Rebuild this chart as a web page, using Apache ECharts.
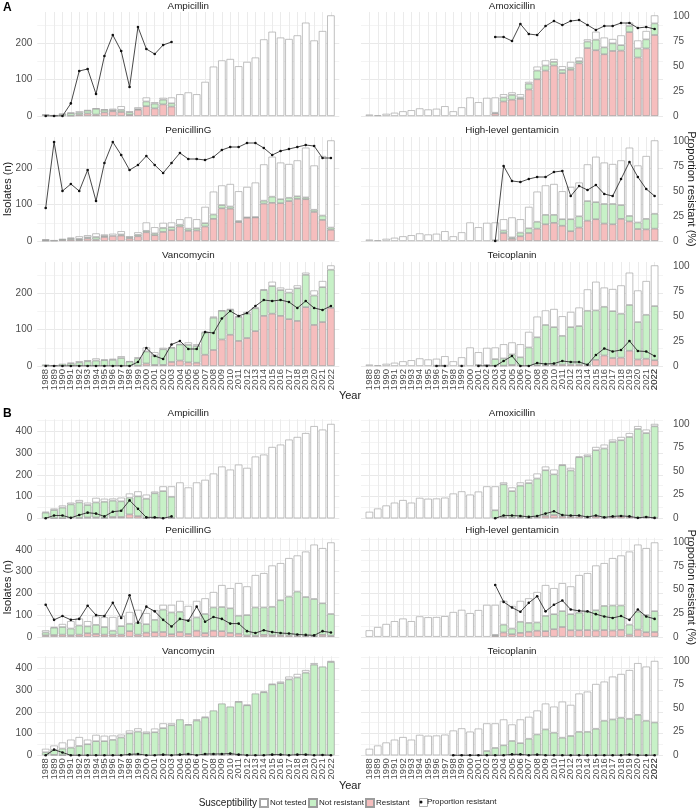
<!DOCTYPE html>
<html>
<head>
<meta charset="utf-8">
<script src="https://cdn.jsdelivr.net/npm/echarts@6/dist/echarts.min.js"></script>
<style>
  html, body { margin: 0; padding: 0; background: #fff; }
  #chart { width: 698px; height: 809px; }
</style>
</head>
<body>
<div id="chart"></div>
<script>
  const _ = null;
  const years = [1988, 1989, 1990, 1991, 1992, 1993, 1994, 1995, 1996, 1997, 1998, 1999, 2000, 2001, 2002, 2003, 2004,
    2005, 2006, 2007, 2008, 2009, 2010, 2011, 2012, 2013, 2014, 2015, 2016, 2017, 2018, 2019, 2020, 2021, 2022];

  // isolates per year (all bars in a section share these totals)
  const totalA = [4, 2, 6, 9, 13, 16, 21, 18, 20, 27, 13, 24, 51, 38, 50, 51, 60, 65, 60, 94, 136, 153, 157, 137, 149,
    161, 211, 232, 216, 212, 222, 257, 208, 234, 277];
  const totalB = [30, 45, 59, 72, 84, 72, 94, 90, 91, 95, 114, 124, 109, 123, 147, 147, 165, 142, 165, 177, 206, 238,
    224, 247, 232, 284, 293, 328, 339, 362, 374, 392, 424, 408, 434];

  // ---- section A ----
  const ampA_R = [0, 0, 0, 1, 4, 7, 4, 10, 13, 11, 3, 17, 27, 21, 32, 26, _, _, _, _, _, _, _, _, _, _, _, _, _, _, _, _, _, _, _];
  const ampA_NR = [3, 1, 5, 7, 5, 8, 16, 7, 3, 6, 7, 2, 13, 13, 13, 9, _, _, _, _, _, _, _, _, _, _, _, _, _, _, _, _, _, _, _];
  const ampA_P = [0, 0, 0, 12.6, 45, 47, 22, 60, 81, 65, 29, 89, 67, 62, 71, 74, _, _, _, _, _, _, _, _, _, _, _, _, _, _, _, _, _, _, _];

  const amoxA_R = [_, _, _, _, _, _, _, _, _, _, _, _, _, _, _, 7, 40, 45, 47, 73, 101, 125, 139, 118, 127, 145, 187, 181,
    170, 179, 180, 231, 161, 186, 223];
  const amoxA_NR = [_, _, _, _, _, _, _, _, _, _, _, _, _, _, _, 2, 11, 13, 4, 16, 24, 14, 10, 9, 6, 6, 18, 29, 19, 21, 15,
    17, 25, 25, 32];
  const amoxA_P = [_, _, _, _, _, _, _, _, _, _, _, _, _, _, _, 79, 79, 75, 92, 82, 81, 90, 95, 91, 95, 96, 91, 86, 90, 90,
    93, 93, 88, 89, 87];

  const penA_R = [1, 1, 3, 4, 3, 7, 4, 11, 14, 15, 7, 13, 24, 16, 25, 30, 40, 28, 29, 40, 61, 90, 89, 52, 64, 65, 103, 105,
    104, 110, 116, 115, 80, 58, 31];
  const penA_NR = [2, 0, 3, 3, 3, 3, 7, 3, 0, 3, 3, 4, 4, 5, 11, 8, 5, 6, 6, 9, 12, 9, 6, 3, 1, 1, 8, 17, 11, 9, 7, 5, 6, 12, 6];
  const penA_P = [33, 99, 50, 57, 50, 71, 40, 78, 99, 86, 71, 76, 85, 76, 68, 78, 88, 82, 82, 81, 84, 91, 94, 94, 98, 98,
    93, 86, 90, 92, 94, 96, 95, 83, 83];

  const genA_R = [_, _, _, _, _, _, _, _, _, _, _, _, _, _, _, 0, 22, 6, 13, 22, 34, 46, 50, 42, 27, 37, 56, 60, 48, 46, 61,
    54, 33, 32, 34];
  const genA_NR = [_, _, _, _, _, _, _, _, _, _, _, _, _, _, _, 2, 7, 4, 10, 13, 19, 26, 22, 18, 33, 31, 54, 47, 54, 56, 38,
    15, 18, 29, 41];
  const genA_P = [_, _, _, _, _, _, _, _, _, _, _, _, _, _, _, 0, 75, 60, 59, 62, 64, 64, 69, 70, 45, 55, 51, 56, 47, 45, 62,
    79, 64, 52, 45];

  const vanA_R = [0, 0, 0, 0, 0, 0, 0, 0, 0, 0, 0, 1, 7, 3, 3, 11, 15, 10, 9, 31, 44, 73, 86, 69, 77, 96, 138, 144, 138,
    129, 124, 162, 113, 121, 160];
  const vanA_NR = [4, 2, 6, 7, 10, 13, 15, 16, 17, 22, 12, 20, 33, 26, 43, 39, 44, 48, 46, 61, 89, 79, 69, 66, 67, 63, 71,
    76, 71, 73, 90, 89, 81, 96, 105];
  const vanA_P = [0, 0, 0, 0, 0, 0, 0, 0, 0, 0, 0, 4, 18, 10, 7, 21.5, 25, 17, 17, 34, 33, 47.5, 55, 50, 53, 60, 66, 65,
    66, 64, 58, 65, 58, 56, 60];

  const teiA_R = [_, _, _, _, _, _, _, _, 0, 0, _, 0, _, 0, 0, 0, 1, 3, 0, 0, 2, 2, 3, 4, 4, 4, 2, 17, 29, 22, 23, 42, 18,
    20, 16];
  const teiA_NR = [_, _, _, _, _, _, _, _, 1, 1, _, 1, _, 3, 3, 19, 20, 29, 24, 51, 77, 111, 104, 79, 103, 106, 150, 136,
    134, 129, 121, 126, 103, 121, 149];
  const teiA_P = [_, _, _, _, _, _, _, _, 0, 0, _, 0, _, 0, 0, 0, 5, 10, 0, 0, 3, 2, 2.5, 5, 4, 4, 1.3, 11, 17.5, 14.5,
    16, 25, 15, 14.5, 10];

  // ---- section B ----
  const ampB_R = [0, 1, 1, 0, 2, 4, 4, 2, 6, 6, 18, 10, 1, 1, 0, 2, _, _, _, _, _, _, _, _, _, _, _, _, _, _, _, _, _, _, _];
  const ampB_NR = [26, 37, 48, 64, 71, 57, 69, 74, 75, 72, 77, 91, 89, 114, 125, 97, _, _, _, _, _, _, _, _, _, _, _, _, _,
    _, _, _, _, _, _];
  const ampB_P = [0, 3, 3, 0.5, 3.5, 6, 5, 2, 7, 8, 19, 10, 1, 1, 0, 2, _, _, _, _, _, _, _, _, _, _, _, _, _, _, _, _, _, _, _];

  const amoxB_R = [_, _, _, _, _, _, _, _, _, _, _, _, _, _, _, 0, 5, 4, 4, 2, 5, 11, 15, 9, 7, 8, 4, 9, 3, 7, 9, 7, 2, 5, 2];
  const amoxB_NR = [_, _, _, _, _, _, _, _, _, _, _, _, _, _, _, 37, 151, 121, 146, 160, 178, 210, 187, 235, 213, 273, 281,
    304, 318, 344, 350, 367, 409, 387, 421];
  const amoxB_P = [_, _, _, _, _, _, _, _, _, _, _, _, _, _, _, 0, 3, 3, 2.5, 1.5, 2.5, 5, 7.4, 3.5, 3, 3, 1.4, 3, 1, 2,
    2.5, 2, 0.5, 1.4, 0.4];

  const penB_R = [7, 8, 10, 7, 10, 16, 13, 10, 10, 10, 26, 10, 19, 21, 22, 12, 22, 13, 28, 17, 28, 26, 18, 14, 6, 5, 9, 7,
    7, 6, 5, 4, 3, 9, 5];
  const penB_NR = [13, 34, 35, 31, 42, 32, 42, 35, 18, 39, 34, 55, 39, 57, 103, 100, 93, 64, 61, 88, 107, 111, 113, 83, 94,
    130, 126, 131, 161, 179, 203, 179, 171, 145, 100];
  const penB_P = [34, 18, 22, 18, 19, 33, 23, 22, 36, 20, 44, 15, 32, 27, 18, 11, 19, 17, 32, 16, 21, 19, 14, 14, 6, 4, 7,
    5, 4, 3.5, 2.5, 2, 1.5, 6, 4.5];

  const genB_R = [_, _, _, _, _, _, _, _, _, _, _, _, _, _, _, 5, 20, 12, 18, 23, 28, 26, 35, 45, 30, 30, 31, 29, 31, 29,
    32, 10, 33, 21, 22];
  const genB_NR = [_, _, _, _, _, _, _, _, _, _, _, _, _, _, _, 4, 36, 26, 51, 41, 38, 70, 69, 73, 74, 81, 84, 93, 111, 115,
    112, 46, 82, 79, 96];
  const genB_P = [_, _, _, _, _, _, _, _, _, _, _, _, _, _, _, 55, 37, 31, 26.5, 36, 43, 27, 34, 38.5, 29, 27.5, 27, 24,
    21.5, 20, 22, 18, 29, 21.5, 19];

  const vanB_R = [0, 2, 1, 0, 0, 0, 0, 0, 0, 0, 1, 2, 0, 0, 1, 0, 1, 2, 0, 2, 3, 3, 4, 2, 0, 0, 0, 2, 2, 0, 3, 3, 0, 1, 0];
  const vanB_NR = [14, 23, 30, 35, 43, 51, 65, 65, 71, 82, 100, 107, 101, 106, 124, 138, 164, 138, 160, 172, 203, 235, 220,
    244, 230, 284, 290, 324, 330, 349, 355, 377, 417, 407, 429];
  const vanB_P = [0, 6, 3, 0, 0, 0, 0, 0, 0, 0, 1, 1.4, 0, 0, 0.7, 0, 0.7, 1.4, 0, 1.4, 1.4, 1.4, 1.8, 0.7, 0, 0, 0, 0.7,
    0.7, 0, 0.7, 0.7, 0, 0.35, 0];

  const teiB_R = [_, _, _, _, _, _, _, _, _, _, 0, 0, 0, 0, 0, 0, 0, 1, 1, 0, 1, 0, 0, 0, 0, 0, 0, 0, 0, 0, 0, 1, 0, 0, 0];
  const teiB_NR = [_, _, _, _, _, _, _, _, _, _, 1, 1, 1, 1, 20, 34, 46, 65, 55, 76, 95, 119, 104, 81, 89, 108, 108, 122,
    159, 165, 173, 167, 186, 159, 151];
  const teiB_P = [_, _, _, _, _, _, _, _, _, _, 0, 0, 0, 0, 0, 0, 0, 1, 1, 0, 0.7, 0, 0, 0, 0, 0, 0, 0, 0, 0, 0, 0.7, 0,
    0, 0];

  const FONT = 'Liberation Sans, Arial, sans-serif';
  const colX = [37.3, 361];
  const W = 302;
  const STEP = W / 36;
  // one empty slot each side gives the panel padding ggplot adds around the bars
  const axisCats = ['1987'].concat(years.map(String), ['2023']);
  const pad = arr => ['-'].concat(arr, ['-']);
  const yearText = v => (v === '1987' || v === '2023') ? '' : v;

  const sections = [
    {
      label: 'A', labelY: 2, total: totalA, zeros: [116, 241, 366], titleY: [6, 130, 255], h: 104,
      leftMax: 286.3, rightMax: 104, yearY: 396,
      panels: [
        { name: 'Ampicillin', r: ampA_R, nr: ampA_NR, p: ampA_P },
        { name: 'Amoxicillin', r: amoxA_R, nr: amoxA_NR, p: amoxA_P },
        { name: 'PenicillinG', r: penA_R, nr: penA_NR, p: penA_P },
        { name: 'High-level gentamicin', r: genA_R, nr: genA_NR, p: genA_P },
        { name: 'Vancomycin', r: vanA_R, nr: vanA_NR, p: vanA_P },
        { name: 'Teicoplanin', r: teiA_R, nr: teiA_NR, p: teiA_P }
      ]
    },
    {
      label: 'B', labelY: 408, total: totalB, zeros: [518.3, 636.8, 755.3], titleY: [413, 530, 651], h: 99,
      leftMax: 455.2, rightMax: 105, yearY: 786,
      panels: [
        { name: 'Ampicillin', r: ampB_R, nr: ampB_NR, p: ampB_P },
        { name: 'Amoxicillin', r: amoxB_R, nr: amoxB_NR, p: amoxB_P },
        { name: 'PenicillinG', r: penB_R, nr: penB_NR, p: penB_P },
        { name: 'High-level gentamicin', r: genB_R, nr: genB_NR, p: genB_P },
        { name: 'Vancomycin', r: vanB_R, nr: vanB_NR, p: vanB_P },
        { name: 'Teicoplanin', r: teiB_R, nr: teiB_NR, p: teiB_P }
      ]
    }
  ];

  const grid = [], xAxis = [], yAxis = [], series = [], graphic = [];

  function barSeries(name, k, values, fill, border) {
    return {
      type: 'bar', name: name, xAxisIndex: k, yAxisIndex: 2 * k, stack: 'st' + k,
      barWidth: 7.5,
      data: pad(values.map(v => v ? v : '-')),
      itemStyle: { color: fill, borderColor: border, borderWidth: 0.7 }
    };
  }

  let k = 0;
  sections.forEach(sec => {
    sec.panels.forEach((pn, j) => {
      const row = Math.floor(j / 2), col = j % 2;
      const zero = sec.zeros[row];
      grid.push({ left: colX[col], top: zero - sec.h, width: W, height: sec.h });

      xAxis.push({
        gridIndex: k, type: 'category', data: axisCats, boundaryGap: false,
        axisLine: { show: false }, axisTick: { show: false },
        axisLabel: {
          show: row === 2, interval: 0, rotate: 90, fontSize: 9.5, color: '#4d4d4d', margin: 3, fontFamily: FONT,
          hideOverlap: false, formatter: yearText
        },
        splitLine: { show: true, interval: 0, showMinLine: false, showMaxLine: false,
          lineStyle: { color: '#ebebeb', width: 1 } }
      });

      yAxis.push({
        gridIndex: k, type: 'value', min: 0, max: sec.leftMax, interval: 50, position: 'left',
        axisLine: { show: false }, axisTick: { show: false },
        axisLabel: {
          show: col === 0, fontSize: 10, color: '#4d4d4d', margin: 5, fontFamily: FONT,
          formatter: v => (v % 100 === 0) ? String(v) : ''
        },
        splitLine: { show: true, showMaxLine: false, lineStyle: { color: ['#e9e9e9', '#f4f4f4'], width: 1 } }
      });
      yAxis.push({
        gridIndex: k, type: 'value', min: 0, max: sec.rightMax, interval: 25, position: 'right',
        axisLine: { show: false }, axisTick: { show: false }, splitLine: { show: false },
        axisLabel: {
          show: col === 1, fontSize: 10, color: '#4d4d4d', margin: 10, fontFamily: FONT,
          formatter: v => (v % 25 === 0) ? String(v) : ''
        }
      });
      // ECharts 6 drops the last year label of the right-hand bottom panels; put it back
      if (row === 2 && col === 1) {
        graphic.push({
          type: 'text', x: colX[col] + 35 * STEP, y: zero + 3, rotation: Math.PI / 2,
          style: { text: String(years[years.length - 1]), font: '9.5px ' + FONT, fill: '#4d4d4d',
            align: 'right', verticalAlign: 'middle' }
        });
      }

      const untested = years.map((y, i) => sec.total[i] - (pn.r[i] || 0) - (pn.nr[i] || 0));
      series.push(barSeries('Resistant', k, pn.r, '#F6BEBE', '#9c9c9c'));
      series.push(barSeries('Not resistant', k, pn.nr, '#C7F1C7', '#9c9c9c'));
      series.push(barSeries('Not tested', k, untested, '#ffffff', '#a6a6a6'));
      series.push({
        type: 'line', name: 'Proportion resistant', xAxisIndex: k, yAxisIndex: 2 * k + 1,
        data: pad(pn.p.map(v => v == null ? '-' : v)),
        symbol: 'circle', symbolSize: 2.6, showSymbol: true, showAllSymbol: true, z: 5,
        lineStyle: { color: '#1a1a1a', width: 0.8 },
        itemStyle: { color: '#111' }
      });

      graphic.push({
        type: 'text', x: colX[col] + W / 2, y: sec.titleY[row],
        style: { text: pn.name, font: '9.8px ' + FONT, fill: '#1a1a1a', align: 'center', verticalAlign: 'middle' }
      });
      k++;
    });

    graphic.push({
      type: 'text', x: 3, y: sec.labelY,
      style: { text: sec.label, font: 'bold 12px ' + FONT, fill: '#000', align: 'left', verticalAlign: 'top' }
    });
    const midY = (sec.zeros[0] - sec.h + sec.zeros[2]) / 2;
    graphic.push({
      type: 'text', x: 8, y: midY, rotation: Math.PI / 2,
      style: { text: 'Isolates (n)', font: '11px ' + FONT, fill: '#1a1a1a', align: 'center', verticalAlign: 'middle' }
    });
    graphic.push({
      type: 'text', x: 691, y: midY, rotation: -Math.PI / 2,
      style: { text: 'Proportion resistant (%)', font: '11px ' + FONT, fill: '#1a1a1a', align: 'center', verticalAlign: 'middle' }
    });
    graphic.push({
      type: 'text', x: 350, y: sec.yearY,
      style: { text: 'Year', font: '11px ' + FONT, fill: '#1a1a1a', align: 'center', verticalAlign: 'middle' }
    });
  });

  graphic.push({
    type: 'text', x: 257, y: 803,
    style: { text: 'Susceptibility', font: '10px ' + FONT, fill: '#1a1a1a', align: 'right', verticalAlign: 'middle' }
  });
  // outline box behind the line legend key, as in the ggplot key
  graphic.push({
    type: 'rect', shape: { x: 419.5, y: 798.5, width: 8, height: 8 },
    style: { fill: 'none', stroke: '#9c9c9c', lineWidth: 0.8 }, z: 1
  });

  const legendText = { fontSize: 8, color: '#1a1a1a', fontFamily: FONT, padding: [0, 0, 0, -3] };
  function legendItem(left, item, w, h) {
    return {
      left: left, top: 798, padding: 0, itemWidth: w, itemHeight: h, selectedMode: false,
      textStyle: legendText, data: [item]
    };
  }

  const option = {
    animation: false,
    textStyle: { fontFamily: FONT },
    grid: grid,
    xAxis: xAxis,
    yAxis: yAxis,
    series: series,
    graphic: graphic,
    legend: [
      legendItem(259, { name: 'Not tested', icon: 'rect' }, 8, 8),
      legendItem(308, { name: 'Not resistant', icon: 'rect' }, 8, 8),
      legendItem(365, { name: 'Resistant', icon: 'rect' }, 8, 8),
      legendItem(419.5, { name: 'Proportion resistant', icon: 'circle' }, 8, 3)
    ]
  };

  const myChart = echarts.init(document.getElementById('chart'));
  myChart.setOption(option);
</script>
</body>
</html>
